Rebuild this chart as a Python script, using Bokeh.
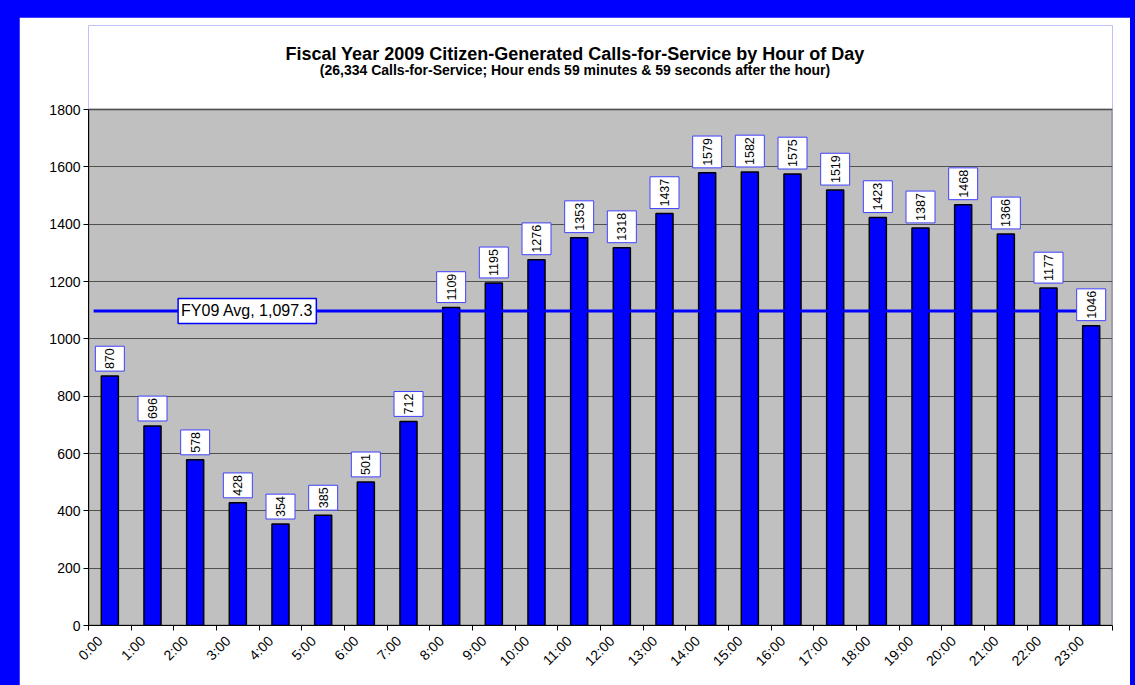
import math
from bokeh.plotting import figure
from bokeh.models import Range1d, FixedTicker, Label, ColumnDataSource
from bokeh.layouts import column
from bokeh.embed import file_html
from bokeh.resources import INLINE

# ---- data ----
hours = ["0:00", "1:00", "2:00", "3:00", "4:00", "5:00", "6:00", "7:00",
         "8:00", "9:00", "10:00", "11:00", "12:00", "13:00", "14:00", "15:00",
         "16:00", "17:00", "18:00", "19:00", "20:00", "21:00", "22:00", "23:00"]
calls = [870, 696, 578, 428, 354, 385, 501, 712, 1109, 1195, 1276, 1353,
         1318, 1437, 1579, 1582, 1575, 1519, 1423, 1387, 1468, 1366, 1177, 1046]
fy_avg = 1097.3
avg_text = "FY09 Avg, 1,097.3"
y_ticks = [0, 200, 400, 600, 800, 1000, 1200, 1400, 1600, 1800]
title_text = "Fiscal Year 2009 Citizen-Generated Calls-for-Service by Hour of Day"
subtitle_text = "(26,334 Calls-for-Service; Hour ends 59 minutes & 59 seconds after the hour)"

FONT = "Liberation Sans"
n = len(hours)
y_max = y_ticks[-1]
xs = [i + 0.5 for i in range(n)]
src = ColumnDataSource(dict(x=xs, calls=calls, hour=hours))

# The plot frame is extended upward so the titles can sit inside it;
# the grey plotting area covers only 0..1800.
PLOT_H = 516            # pixel height of the 0..1800 area
FRAME_H = 600           # frame height including the title area
y_top = y_max * FRAME_H / PLOT_H

p = figure(frame_width=1024, frame_height=FRAME_H,
           x_range=Range1d(0, n), y_range=Range1d(0, y_top),
           output_backend="svg", toolbar_location=None,
           min_border_left=69, min_border_right=18, min_border_top=8, min_border_bottom=60,
           background_fill_color="white", border_fill_color="white")
p.outline_line_color = None
p.outline_line_alpha = 0
p.outline_line_width = 0

# grey plot area (below the grid lines)
p.quad(left=[0], right=[n], bottom=[0], top=[y_max], fill_color="#C0C0C0",
       line_color="#808080", line_width=2, level="image")

# grid
p.xgrid.visible = False
p.ygrid.grid_line_color = "#505050"
p.ygrid.grid_line_width = 1
p.ygrid.ticker = FixedTicker(ticks=y_ticks)

# y axis
p.yaxis.ticker = FixedTicker(ticks=y_ticks, minor_ticks=[])
p.yaxis.bounds = (0, y_max)
p.yaxis.axis_line_color = "black"
p.yaxis.major_tick_out = 5
p.yaxis.major_tick_in = 0
p.yaxis.minor_tick_line_color = None
p.yaxis.major_label_text_font = FONT
p.yaxis.major_label_text_font_size = "14px"
p.yaxis.major_label_text_color = "black"
p.yaxis.major_label_standoff = 3

# x axis: labels offset inside category, tick marks at boundaries
label_pos = [i + 0.27 for i in range(n)]
p.xaxis.ticker = FixedTicker(ticks=label_pos, minor_ticks=list(range(n + 1)))
p.xaxis.major_label_overrides = {lp: h for lp, h in zip(label_pos, hours)}
p.xaxis.major_tick_out = 0
p.xaxis.major_tick_in = 0
p.xaxis.minor_tick_out = 5
p.xaxis.minor_tick_in = 0
p.xaxis.minor_tick_line_color = "black"
p.xaxis.axis_line_color = "black"
p.xaxis.major_label_orientation = math.pi / 4
p.xaxis.major_label_text_font = FONT
p.xaxis.major_label_text_font_size = "14px"
p.xaxis.major_label_text_color = "black"
p.xaxis.major_label_standoff = 8

# bars
p.vbar(x="x", top="calls", width=0.4, source=src,
       fill_color="#0000FF", line_color="black", line_width=1.5)

# average line
p.line(x=[0.12, n - 0.5], y=[fy_avg, fy_avg], line_color="#0000FF", line_width=3)

# value labels
for x, c in zip(xs, calls):
    p.add_layout(Label(x=x, y=c, text=str(c), angle=math.pi / 2,
                       text_align="left", text_baseline="middle", y_offset=5,
                       text_font=FONT, text_font_size="12.5px", text_color="black",
                       background_fill_color="white", border_line_color="#4040FF",
                       border_line_width=1, padding=(2, 10)))

p.add_layout(Label(x=2.1, y=fy_avg, text=avg_text, text_align="left",
                   text_baseline="middle", text_font=FONT, text_font_size="16px",
                   text_color="black", background_fill_color="white",
                   border_line_color="#0000FF", border_line_width=1.5, padding=(3, 4)))

# titles (screen units relative to the frame's bottom-left corner)
p.add_layout(Label(x=486.5, y=572, x_units="screen", y_units="screen", text=title_text,
                   text_align="center", text_baseline="alphabetic", text_font=FONT,
                   text_font_size="18px", text_font_style="bold", text_color="black"))
p.add_layout(Label(x=486.5, y=556, x_units="screen", y_units="screen", text=subtitle_text,
                   text_align="center", text_baseline="alphabetic", text_font=FONT,
                   text_font_size="14px", text_font_style="bold", text_color="black"))

layout = column(p, styles={"background-color": "#0000FF", "padding": "17px 5px 0px 19px"})

open("out.html", "w").write(file_html(layout, INLINE))
